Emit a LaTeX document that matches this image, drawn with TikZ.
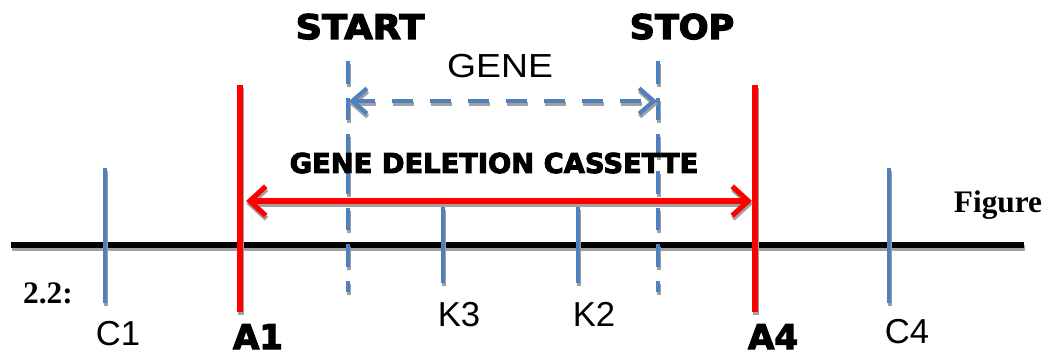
\documentclass[tikz,border=0pt]{standalone}
\usepackage{fontspec}
\setmainfont{Liberation Sans}
\newfontfamily\heavy{DejaVu Sans Bold}[FakeBold=3.5]
\newfontfamily\tms{Liberation Serif}
\usetikzlibrary{arrows.meta,calc}
\definecolor{markblue}{HTML}{4F81BD}
\definecolor{shadowc}{HTML}{A0A0A0}
\newcommand\shline[3]{%
  \draw[#1, draw=shadowc] ($(#2)+(0.7,3)$) -- ($(#3)+(0.7,3)$);
  \draw[#1] (#2) -- (#3);}
\tikzset{
  chrom/.style={draw=black, line width=3.8pt},
  bluemark/.style={draw=markblue, line width=3pt},
  redmark/.style={draw=red, line width=4.2pt},
  genemark/.style={draw=markblue, line width=3pt, dash pattern=on 17pt off 10.5pt},
  genearrow/.style={draw=markblue, line width=3.2pt, dash pattern=on 15.5pt off 13pt,
     {Straight Barb[length=11pt,width=19pt]}-{Straight Barb[length=11pt,width=19pt]}},
  cassarrow/.style={draw=red, line width=3.8pt,
     {Straight Barb[length=12pt,width=22pt]}-{Straight Barb[length=12pt,width=22pt]}},
  lbl/.style={inner sep=0pt, anchor=base, font=\fontsize{26pt}{30pt}\selectfont},
  blbl/.style={inner sep=0pt, anchor=base, font=\heavy\fontsize{25.5pt}{30pt}\selectfont},
  figlbl/.style={inner sep=0pt, anchor=base, font=\tms\bfseries\fontsize{23.5pt}{26pt}\selectfont},
}
\begin{document}
\begin{tikzpicture}[x=0.75pt, y=-0.75pt]
\useasboundingbox (0,0) rectangle (1056,356);
% coordinates
\coordinate (chL) at (11,245);  \coordinate (chR) at (1024,245);
\coordinate (c1t) at (105,168); \coordinate (c1b) at (105,303);
\coordinate (c4t) at (889,168); \coordinate (c4b) at (889,303);
\coordinate (a1t) at (240,85);  \coordinate (a1b) at (240,312);
\coordinate (a4t) at (755,85);  \coordinate (a4b) at (755,312);
\coordinate (k3t) at (443,207); \coordinate (k3b) at (443,283);
\coordinate (k2t) at (578,207); \coordinate (k2b) at (578,283);
\coordinate (st) at (348,61);   \coordinate (sb) at (348,292);
\coordinate (pt) at (658,61);   \coordinate (pb) at (658,292);
\coordinate (gL) at (349,101);  \coordinate (gR) at (657,101);
\coordinate (rL) at (246,201);  \coordinate (rR) at (752,201);
% chromosome
\shline{chrom}{chL}{chR}
% markers
\shline{bluemark}{c1t}{c1b}
\shline{bluemark}{c4t}{c4b}
\shline{bluemark}{k3t}{k3b}
\shline{bluemark}{k2t}{k2b}
\shline{genemark}{st}{sb}
\shline{genemark}{pt}{pb}
\shline{redmark}{a1t}{a1b}
\shline{redmark}{a4t}{a4b}
% arrows
\shline{genearrow}{gL}{gR}
\shline{cassarrow}{rL}{rR}
% texts
\node[blbl, xscale=1.08] (tstart) at (360,39) {START};
\node[blbl, xscale=1.03] (tstop) at (682,39) {STOP};
\node[lbl, xscale=1.12, font=\fontsize{25pt}{28pt}\selectfont] (tgene) at (500,78) {GENE};
\node[blbl, font=\heavy\fontsize{20.5pt}{24pt}\selectfont] (tgdc) at (494,173) {GENE DELETION CASSETTE};
\node[lbl] (tc1) at (118,345) {C1};
\node[blbl] (ta1) at (258,349) {A1};
\node[lbl] (tk3) at (459,326) {K3};
\node[lbl] (tk2) at (594,326) {K2};
\node[blbl] (ta4) at (773,349) {A4};
\node[lbl] (tc4) at (907,343) {C4};
\node[figlbl] (tfig) at (998,212) {Figure};
\node[figlbl] (tnum) at (48,303) {2.2:};
\end{tikzpicture}
\end{document}
